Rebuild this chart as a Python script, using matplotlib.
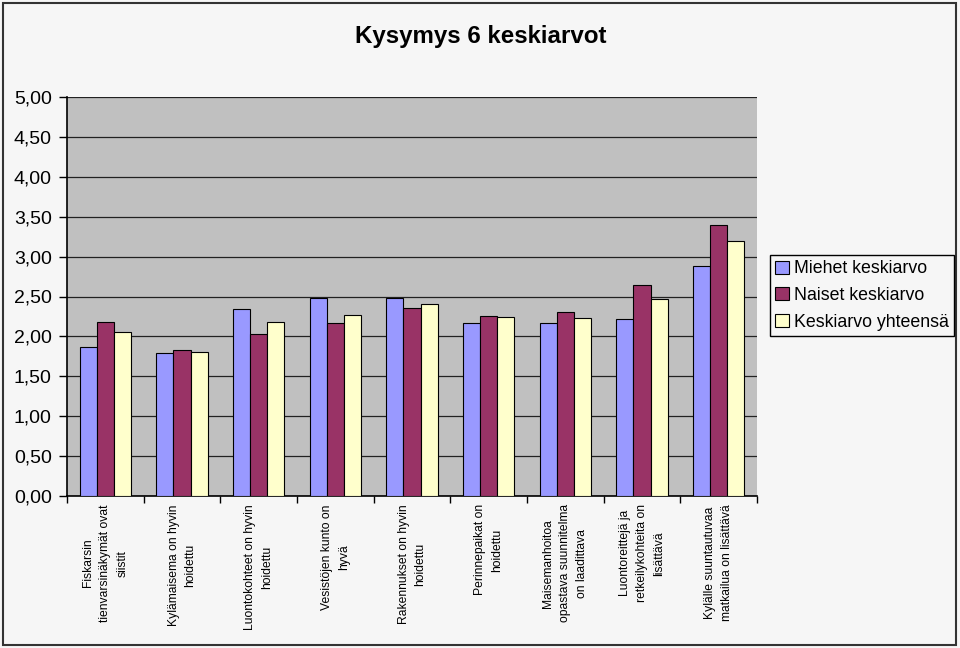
import matplotlib
matplotlib.use("Agg")
import matplotlib.pyplot as plt
import numpy as np
from matplotlib.patches import Rectangle
from matplotlib.ticker import FixedLocator, FuncFormatter

plt.rcParams['font.family'] = ['Liberation Sans', 'DejaVu Sans']

categories = [
    "Fiskarsin\ntienvarsinäkymät ovat\nsiistit",
    "Kylämaisema on hyvin\nhoidettu",
    "Luontokohteet on hyvin\nhoidettu",
    "Vesistöjen kunto on\nhyvä",
    "Rakennukset on hyvin\nhoidettu",
    "Perinnepaikat on\nhoidettu",
    "Maisemanhoitoa\nopastava suunnitelma\non laadittava",
    "Luontoreittejä ja\nretkeilykohteita on\nlisättävä",
    "Kylälle suuntautuvaa\nmatkailua on lisättävä",
]
miehet = [1.87, 1.79, 2.34, 2.48, 2.48, 2.17, 2.17, 2.22, 2.88]
naiset = [2.18, 1.83, 2.03, 2.17, 2.36, 2.25, 2.31, 2.64, 3.40]
yhteensa = [2.06, 1.80, 2.18, 2.27, 2.41, 2.24, 2.23, 2.47, 3.20]
series_names = ["Miehet keskiarvo", "Naiset keskiarvo", "Keskiarvo yhteensä"]
colors = ["#9999FF", "#993366", "#FFFFCC"]
yticks = np.arange(0, 5.01, 0.5)

bg = "#F6F6F6"
fig = plt.figure(figsize=(9.6, 6.48), dpi=100, facecolor=bg)
ax = fig.add_axes([67/960, 1-496/648, (757-67)/960, (496-97)/648])
ax.set_facecolor("#C0C0C0")

x = np.arange(len(categories))
w = 0.223
for i, (vals, name, c) in enumerate(zip([miehet, naiset, yhteensa], series_names, colors)):
    ax.bar(x + (i-1)*w, vals, width=w, color=c, edgecolor="black", linewidth=0.8,
           label=name, zorder=3)

ax.set_ylim(0, 5)
ax.set_xlim(-0.5, len(categories)-0.5)
ax.set_yticks(yticks)
ax.yaxis.set_major_formatter(FuncFormatter(lambda v, p: f"{v:.2f}".replace(".", ",")))
ax.yaxis.grid(True, color="#222222", linewidth=0.9, zorder=1)
ax.set_axisbelow(True)
ax.tick_params(axis='y', direction='out', length=6, width=1, labelsize=14, pad=5)

ax.set_xticks(x)
ax.set_xticklabels(categories, rotation=90, fontsize=8.7, multialignment='center',
                   linespacing=1.55)
ax.tick_params(axis='x', which='major', length=0, pad=6)
ax.xaxis.set_minor_locator(FixedLocator(np.arange(-0.5, len(categories), 1.0)))
ax.tick_params(axis='x', which='minor', direction='out', length=5, width=1)

for s in ['top', 'right']:
    ax.spines[s].set_visible(False)
ax.spines['left'].set_color('black')
ax.spines['bottom'].set_color('black')
ax.spines['left'].set_linewidth(1.2)
ax.spines['bottom'].set_linewidth(1.2)

fig.text(481/960, 1-37/648, "Kysymys 6 keskiarvot", ha='center', va='center',
         fontsize=17.4, fontweight='bold')

leg = fig.legend(loc='upper left', bbox_to_anchor=(770/960, 1-255/648),
                 fontsize=12.8, frameon=True, fancybox=False, edgecolor='black',
                 facecolor=bg, framealpha=1, handlelength=0.75, handleheight=0.75,
                 handletextpad=0.3, borderpad=0.3, labelspacing=0.55, borderaxespad=0)
leg.get_frame().set_linewidth(1)

fig.patches.append(Rectangle((3/960, 3/648), 953/960, 642/648, transform=fig.transFigure,
                             fill=False, edgecolor='#333333', linewidth=1.5))

fig.savefig("out.png", dpi=100, facecolor=bg)
